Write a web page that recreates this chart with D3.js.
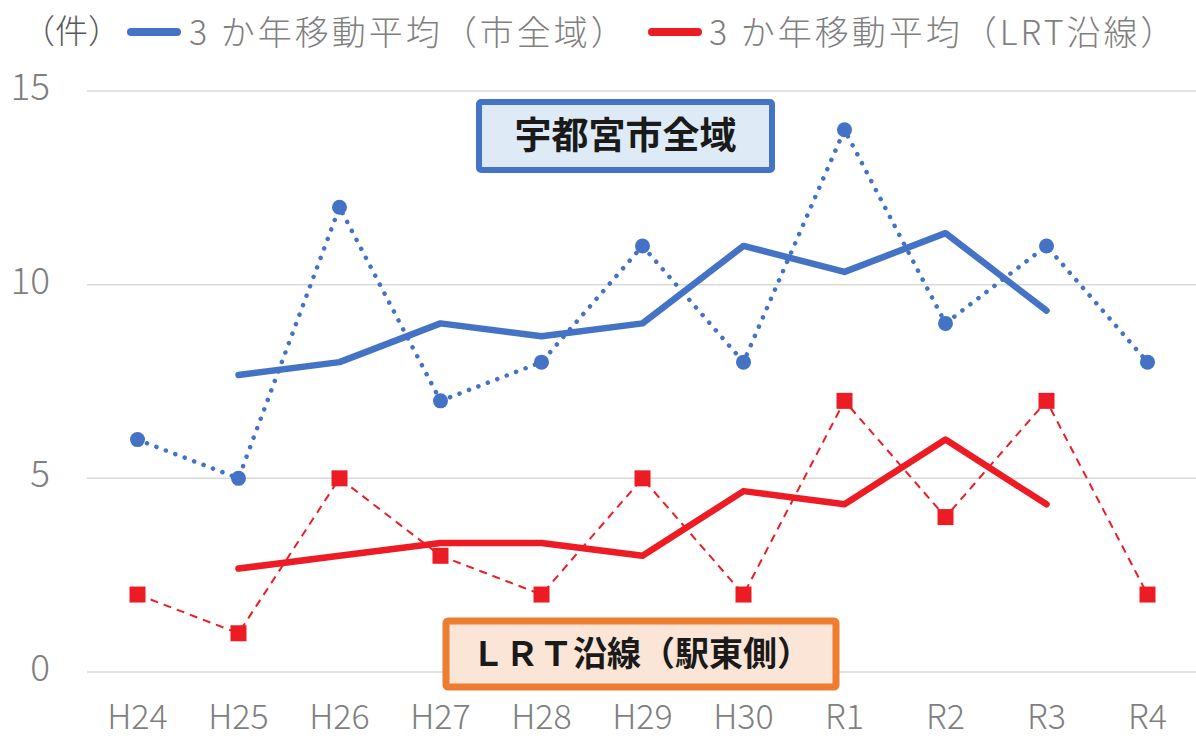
<!DOCTYPE html>
<html>
<head>
<meta charset="utf-8">
<script src="https://cdn.jsdelivr.net/npm/d3@7"></script>
<style>
  body { margin: 0; background: #fff; }
  text { font-family: "Noto Sans CJK JP", "Noto Sans", sans-serif; }
</style>
</head>
<body>
<div id="chart"></div>
<script>
var years = ["H24", "H25", "H26", "H27", "H28", "H29", "H30", "R1", "R2", "R3", "R4"];
// yearly counts (dotted / dashed series)
var cityVals = [6, 5, 12, 7, 8, 11, 8, 14, 9, 11, 8];
var lrtVals = [2, 1, 5, 3, 2, 5, 2, 7, 4, 7, 2];
// 3-year moving averages, H25..R3
var cityAvg = [null, 7.67, 8, 9, 8.67, 9, 11, 10.33, 11.33, 9.33, null];
var lrtAvg = [null, 2.67, 3, 3.33, 3.33, 3, 4.67, 4.33, 6, 4.33, null];
var yTicks = [0, 5, 10, 15];

var W = 1196, H = 739;
var blue = "#4472C4", red = "#ED1C24", grey = "#7F7F7F";

var svg = d3.select("#chart").append("svg")
    .attr("width", W)
    .attr("height", H);

var x = d3.scalePoint()
    .domain(years)
    .range([87, 1198])
    .padding(0.5);

var y = d3.scaleLinear()
    .domain([0, 15])
    .range([672, 91]);

// gridlines
svg.selectAll("line.grid")
    .data(yTicks).enter()
    .append("line")
    .attr("class", "grid")
    .attr("x1", 87).attr("x2", 1196)
    .attr("y1", function(d) { return y(d) })
    .attr("y2", function(d) { return y(d) })
    .style("stroke", "#D9D9D9")
    .style("stroke-width", 1.5);

// y labels
svg.selectAll("text.ytick")
    .data(yTicks).enter()
    .append("text")
    .attr("class", "ytick")
    .attr("x", 50)
    .attr("y", function(d) { return y(d) + 9 })
    .attr("text-anchor", "end")
    .style("font-size", "37px")
    .style("font-weight", 300)
    .style("fill", grey)
    .text(function(d) { return d });

// x labels
svg.selectAll("text.xtick")
    .data(years).enter()
    .append("text")
    .attr("class", "xtick")
    .attr("x", function(d) { return x(d) })
    .attr("y", 729)
    .attr("text-anchor", "middle")
    .style("font-size", "34px")
    .style("font-weight", 300)
    .style("fill", grey)
    .text(function(d) { return d });

var line = function(vals) {
    return d3.line()
        .defined(function(d) { return d != null })
        .x(function(d, i) { return x(years[i]) })
        .y(function(d) { return y(d) })(vals);
};

// yearly city (dotted)
svg.append("path")
    .attr("d", line(cityVals))
    .attr("fill", "none")
    .style("stroke", blue)
    .style("stroke-width", 4.5)
    .style("stroke-linecap", "round")
    .style("stroke-dasharray", "0.1 10");

// yearly lrt (dashed)
svg.append("path")
    .attr("d", line(lrtVals))
    .attr("fill", "none")
    .style("stroke", red)
    .style("stroke-width", 2)
    .style("stroke-dasharray", "8 6");

// moving averages
svg.append("path")
    .attr("d", line(cityAvg))
    .attr("fill", "none")
    .style("stroke", blue)
    .style("stroke-width", 6.5)
    .style("stroke-linecap", "round")
    .style("stroke-linejoin", "round");

svg.append("path")
    .attr("d", line(lrtAvg))
    .attr("fill", "none")
    .style("stroke", red)
    .style("stroke-width", 6.5)
    .style("stroke-linecap", "round")
    .style("stroke-linejoin", "round");

// markers
svg.selectAll("circle.city")
    .data(cityVals).enter()
    .append("circle")
    .attr("class", "city")
    .attr("cx", function(d, i) { return x(years[i]) })
    .attr("cy", function(d) { return y(d) })
    .attr("r", 7.5)
    .style("fill", blue);

svg.selectAll("rect.lrt")
    .data(lrtVals).enter()
    .append("rect")
    .attr("class", "lrt")
    .attr("x", function(d, i) { return x(years[i]) - 8 })
    .attr("y", function(d) { return y(d) - 8 })
    .attr("width", 16)
    .attr("height", 16)
    .style("fill", red);

// legend
svg.append("text")
    .attr("x", 22).attr("y", 43)
    .style("font-size", "33px")
    .style("font-weight", 300)
    .style("fill", "#595959")
    .text("（件）");

var legend = [
    {label: "3 か年移動平均（市全域）", color: blue, x: 128, tx: 189},
    {label: "3 か年移動平均（LRT沿線）", color: red, x: 649, tx: 709}
];
legend.forEach(function(l) {
    svg.append("line")
        .attr("x1", l.x + 3).attr("x2", l.x + 49)
        .attr("y1", 32).attr("y2", 32)
        .style("stroke", l.color)
        .style("stroke-width", 8)
        .style("stroke-linecap", "round");
    svg.append("text")
        .attr("x", l.tx).attr("y", 45)
        .style("font-size", "34px")
        .style("font-weight", 300)
        .style("letter-spacing", "3px")
        .style("fill", grey)
        .text(l.label);
});

// annotation boxes
var boxes = [
    {label: "宇都宮市全域", x: 479, y: 102, w: 293, h: 68, fill: "#DEEBF7", stroke: blue, sw: 6, size: 37},
    {label: "ＬＲＴ沿線（駅東側）", x: 446, y: 621, w: 390, h: 66, fill: "#FBE5D6", stroke: "#ED7D31", sw: 7, size: 34}
];
boxes.forEach(function(b) {
    svg.append("rect")
        .attr("x", b.x).attr("y", b.y)
        .attr("width", b.w).attr("height", b.h)
        .attr("rx", 2)
        .style("fill", b.fill)
        .style("stroke", b.stroke)
        .style("stroke-width", b.sw);
    svg.append("text")
        .attr("x", b.x + b.w / 2)
        .attr("y", b.y + b.h / 2 + b.size * 0.36)
        .attr("text-anchor", "middle")
        .style("font-size", b.size + "px")
        .style("font-weight", "bold")
        .style("fill", "#1a1a1a")
        .text(b.label);
});
</script>
</body>
</html>
